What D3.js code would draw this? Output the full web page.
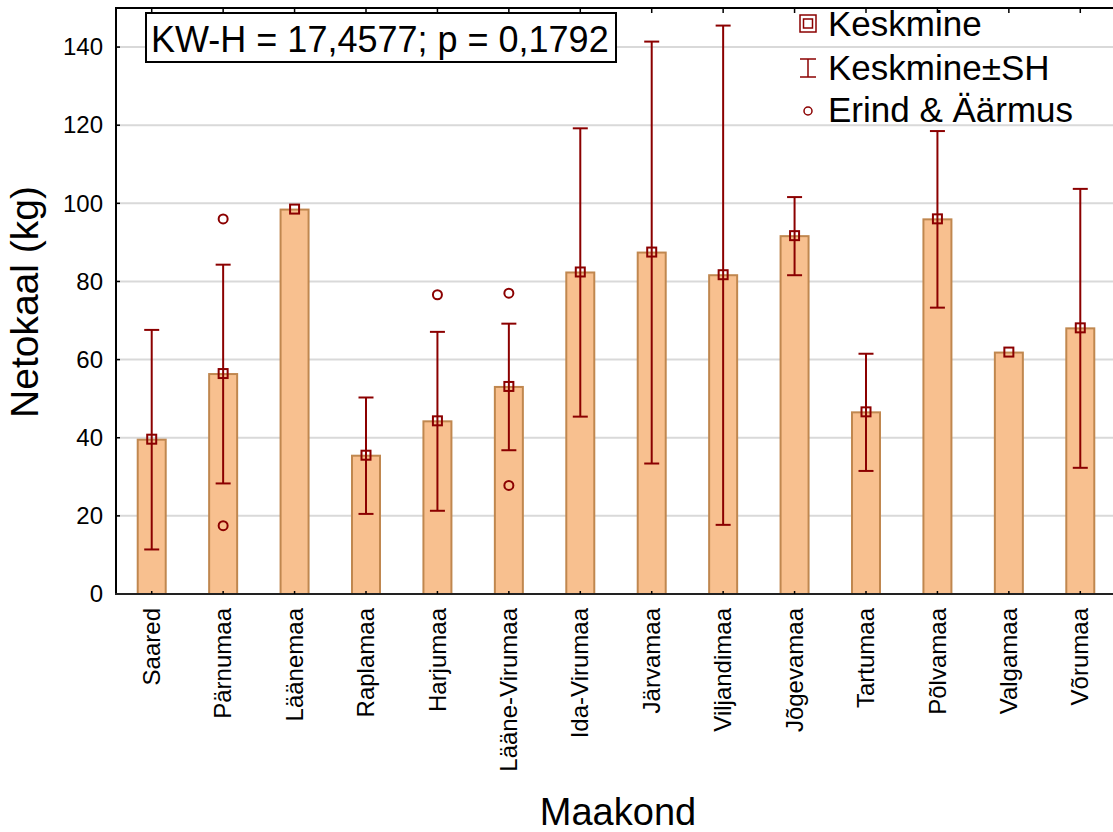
<!DOCTYPE html>
<html>
<head>
<meta charset="utf-8">
<script src="https://cdn.jsdelivr.net/npm/d3@7"></script>
<style>
  html, body { margin: 0; padding: 0; background: #fff; }
  svg { display: block; font-family: "Liberation Sans", Arial, sans-serif; }
</style>
</head>
<body>
<svg id="chart" width="1113" height="832"></svg>
<script>
// Maakondade netokaal: keskmine, keskmine ± SH ning erindid
const categories = ["Saared", "Pärnumaa", "Läänemaa", "Raplamaa", "Harjumaa", "Lääne-Virumaa",
  "Ida-Virumaa", "Järvamaa", "Viljandimaa", "Jõgevamaa", "Tartumaa", "Põlvamaa", "Valgamaa", "Võrumaa"];
const means = [39.5, 56.3, 98.4, 35.4, 44.2, 53.0, 82.3, 87.4, 81.6, 91.6, 46.5, 95.9, 61.8, 68.0];
const sh = [28.1, 28.0, null, 14.9, 22.9, 16.2, 36.9, 54.0, 63.9, 10.0, 15.0, 22.6, null, 35.7];
const outlierCategories = ["Pärnumaa", "Pärnumaa", "Harjumaa", "Lääne-Virumaa", "Lääne-Virumaa"];
const outlierValues = [96.0, 17.5, 76.6, 77.0, 27.8];
const yTicks = [0, 20, 40, 60, 80, 100, 120, 140];
const statText = "KW-H = 17,4577; p = 0,1792";
const legendLabels = ["Keskmine", "Keskmine±SH", "Erind & Äärmus"];

const plotLeft = 116, plotRight = 1116, plotTop = 8, plotBottom = 594;
const darkRed = "#8b0000";
const barFill = "#f8c08f";
const barStroke = "#c0874f";

const svg = d3.select("#chart");

const x = d3.scaleBand().domain(categories).range([plotLeft, plotRight]).paddingInner(0).paddingOuter(0);
const y = d3.scaleLinear().domain([0, 150]).range([plotBottom, plotTop]);
const cx = c => x(c) + x.bandwidth() / 2;

// horisontaalsed abijooned
svg.append("g").selectAll("line").data(yTicks.filter(t => t > 0)).join("line")
  .attr("x1", plotLeft).attr("x2", 1113)
  .attr("y1", d => y(d)).attr("y2", d => y(d))
  .attr("stroke", "#d9d9d9").attr("stroke-width", 2);

// tulbad
const barW = 28;
svg.append("g").selectAll("rect").data(categories).join("rect")
  .attr("x", c => cx(c) - barW / 2)
  .attr("width", barW)
  .attr("y", (c, i) => y(means[i]))
  .attr("height", (c, i) => y(0) - y(means[i]))
  .attr("fill", barFill)
  .attr("stroke", barStroke)
  .attr("stroke-width", 2);

// keskmine ± SH
const capW = 15;
const eb = svg.append("g").attr("stroke", darkRed).attr("stroke-width", 2).attr("fill", "none");
categories.forEach((c, i) => {
  if (sh[i] == null) return;
  const hi = y(means[i] + sh[i]), lo = y(means[i] - sh[i]), xc = cx(c);
  eb.append("line").attr("x1", xc).attr("x2", xc).attr("y1", hi).attr("y2", lo);
  eb.append("line").attr("x1", xc - capW / 2).attr("x2", xc + capW / 2).attr("y1", hi).attr("y2", hi);
  eb.append("line").attr("x1", xc - capW / 2).attr("x2", xc + capW / 2).attr("y1", lo).attr("y2", lo);
});

// keskmise markerid
const sq = 9;
svg.append("g").selectAll("rect").data(categories).join("rect")
  .attr("x", c => cx(c) - sq / 2)
  .attr("y", (c, i) => y(means[i]) - sq / 2 - 0.5)
  .attr("width", sq).attr("height", sq)
  .attr("fill", "none").attr("stroke", darkRed).attr("stroke-width", 2);

// erindid
svg.append("g").selectAll("circle").data(outlierValues).join("circle")
  .attr("cx", (v, i) => cx(outlierCategories[i]))
  .attr("cy", v => y(v))
  .attr("r", 4.5)
  .attr("fill", "none").attr("stroke", darkRed).attr("stroke-width", 2);

// teljed
const yAxis = d3.axisLeft(y).tickValues(yTicks).tickSize(0).tickPadding(13);
const gy = svg.append("g").attr("transform", `translate(${plotLeft},0)`).call(yAxis);
gy.select(".domain").remove();
gy.selectAll("text").attr("font-size", 24).attr("fill", "#000")
  .attr("font-family", "Liberation Sans, Arial, sans-serif");
// sisemised jaotised
svg.append("g").selectAll("line").data(yTicks).join("line")
  .attr("x1", plotLeft).attr("x2", plotLeft + 4)
  .attr("y1", d => y(d)).attr("y2", d => y(d))
  .attr("stroke", "#000").attr("stroke-width", 1.5);

svg.append("line").attr("x1", plotLeft).attr("x2", plotLeft).attr("y1", plotTop).attr("y2", plotBottom + 1)
  .attr("stroke", "#000").attr("stroke-width", 2);
svg.append("line").attr("x1", plotLeft - 1).attr("x2", 1113).attr("y1", plotTop).attr("y2", plotTop)
  .attr("stroke", "#000").attr("stroke-width", 2);
svg.append("line").attr("x1", plotLeft - 1).attr("x2", 1113).attr("y1", plotBottom).attr("y2", plotBottom)
  .attr("stroke", "#222").attr("stroke-width", 2);

// kategooriate jaotised üla- ja alaservas
svg.append("g").selectAll("line").data(categories).join("line")
  .attr("x1", c => cx(c)).attr("x2", c => cx(c))
  .attr("y1", plotTop).attr("y2", plotTop + 5)
  .attr("stroke", "#000").attr("stroke-width", 1.5);
svg.append("g").selectAll("line").data(categories).join("line")
  .attr("x1", c => cx(c)).attr("x2", c => cx(c))
  .attr("y1", plotBottom).attr("y2", plotBottom - 3)
  .attr("stroke", "#000").attr("stroke-width", 1.5);

// kategooriate nimed
const xAxis = d3.axisBottom(x).tickSize(0).tickPadding(0);
const gx = svg.append("g").attr("transform", `translate(0,${plotBottom})`).call(xAxis);
gx.select(".domain").remove();
gx.selectAll("text")
  .attr("font-size", 24).attr("fill", "#000")
  .attr("font-family", "Liberation Sans, Arial, sans-serif")
  .attr("text-anchor", "end")
  .attr("transform", "rotate(-90)")
  .attr("x", -14).attr("y", 0).attr("dy", "0.34em");

// telgede pealkirjad
svg.append("text")
  .attr("transform", `translate(38,302) rotate(-90)`)
  .attr("text-anchor", "middle")
  .attr("font-size", 39).attr("fill", "#000")
  .text("Netokaal (kg)");
svg.append("text")
  .attr("x", 618).attr("y", 825)
  .attr("text-anchor", "middle")
  .attr("font-size", 38).attr("fill", "#000")
  .text("Maakond");

// statistiku kast
svg.append("rect").attr("x", 146).attr("y", 13).attr("width", 470).attr("height", 49)
  .attr("fill", "#fff").attr("stroke", "#000").attr("stroke-width", 2);
svg.append("text").attr("x", 151).attr("y", 52)
  .attr("font-size", 36).attr("fill", "#000")
  .text(statText);

// legend
const lg = svg.append("g");
const lx = 808, textX = 828;
const rowY = [36, 80, 122];
legendLabels.forEach((t, i) => {
  lg.append("text").attr("x", textX).attr("y", rowY[i])
    .attr("font-size", 35).attr("fill", "#000").text(t);
});
// keskmise sümbol: topeltruut
lg.append("rect").attr("x", lx - 8).attr("y", rowY[0] - 21).attr("width", 16).attr("height", 17)
  .attr("fill", "none").attr("stroke", darkRed).attr("stroke-width", 1.5);
lg.append("rect").attr("x", lx - 4.5).attr("y", rowY[0] - 17).attr("width", 9).attr("height", 9)
  .attr("fill", "none").attr("stroke", darkRed).attr("stroke-width", 1.5);
// SH sümbol
const ey1 = rowY[1] - 21, ey2 = rowY[1] - 3;
lg.append("line").attr("x1", lx).attr("x2", lx).attr("y1", ey1).attr("y2", ey2)
  .attr("stroke", darkRed).attr("stroke-width", 1.5);
lg.append("line").attr("x1", lx - 8).attr("x2", lx + 8).attr("y1", ey1).attr("y2", ey1)
  .attr("stroke", darkRed).attr("stroke-width", 1.5);
lg.append("line").attr("x1", lx - 8).attr("x2", lx + 8).attr("y1", ey2).attr("y2", ey2)
  .attr("stroke", darkRed).attr("stroke-width", 1.5);
// erindi sümbol
lg.append("circle").attr("cx", lx).attr("cy", rowY[2] - 11).attr("r", 4)
  .attr("fill", "none").attr("stroke", darkRed).attr("stroke-width", 1.5);
</script>
</body>
</html>
